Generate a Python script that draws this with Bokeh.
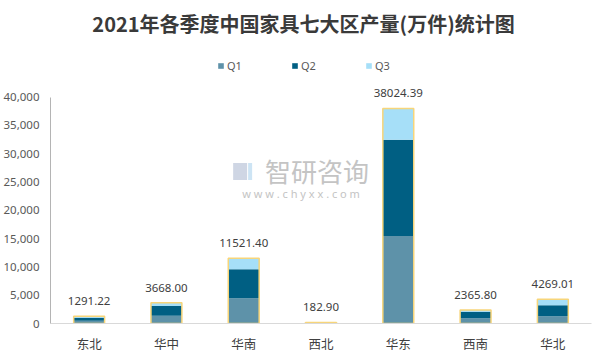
from bokeh.plotting import figure
from bokeh.models import (ColumnDataSource, FactorRange, Range1d, Legend, LegendItem,
                          LabelSet, Label, FixedTicker, NumeralTickFormatter)
from bokeh.core.properties import value
from bokeh.embed import file_html
from bokeh.resources import INLINE

# ---- data ----
regions = ["东北", "华中", "华南", "西北", "华东", "西南", "华北"]
q1 = [470, 1350, 4465, 80, 15450, 940, 1290]
q2 = [530, 1760, 5110, 60, 17035, 1115, 1940]
q3 = [291.22, 558.00, 1946.40, 42.90, 5539.39, 310.80, 1039.01]
totals = [1291.22, 3668.00, 11521.40, 182.90, 38024.39, 2365.80, 4269.01]
total_labels = ["1291.22", "3668.00", "11521.40", "182.90", "38024.39", "2365.80", "4269.01"]
y_ticks = [0, 5000, 10000, 15000, 20000, 25000, 30000, 35000, 40000]
series = ["Q1", "Q2", "Q3"]
colors = ["#5e92a9", "#005f83", "#a6dff8"]
title_text = "2021年各季度中国家具七大区产量(万件)统计图"

src = ColumnDataSource(dict(region=regions, Q1=q1, Q2=q2, Q3=q3,
                            total=totals, label=total_labels))

W, H = 597, 355
FRAME_L, FRAME_R, FRAME_B = 49, 591, 324
PX = 40000 / 227.0          # data units per pixel
Y_MAX = FRAME_B * PX
CAT = (FRAME_R - FRAME_L) / 7.0


def sx(px):
    return (px - FRAME_L) / CAT


def sy(py):
    return (FRAME_B - py) * PX


p = figure(width=W, height=H, x_range=FactorRange(*regions),
           y_range=Range1d(0, Y_MAX), output_backend="svg",
           toolbar_location=None, min_border_left=FRAME_L,
           min_border_right=W - FRAME_R, min_border_top=0,
           min_border_bottom=H - FRAME_B)
p.outline_line_color = None
p.xgrid.visible = False
p.ygrid.visible = False
p.background_fill_color = "white"
p.border_fill_color = "white"

# watermark logo blocks
p.quad(left=[sx(232)], right=[sx(246)], bottom=[sy(180)], top=[sy(163)],
       fill_color="#cfd6e4", line_color=None)
p.quad(left=[sx(247)], right=[sx(251)], bottom=[sy(180)], top=[sy(163)],
       fill_color="#cde4f4", line_color=None)

rs = p.vbar_stack(series, x="region", width=0.4, source=src, color=colors,
                  line_color=None)
p.vbar(x="region", top="total", width=0.4, source=src, fill_alpha=0,
       line_color="#f7d57a", line_width=1.5)

labels = LabelSet(x="region", y="total", text="label", source=src,
                  text_align="center", text_baseline="bottom", y_offset=11,
                  text_font_size=value("11.5px"), text_color="#404040",
                  text_font=value("Noto Sans"))
p.add_layout(labels)

# axes
for ax in (p.xaxis[0], p.yaxis[0]):
    ax.major_tick_line_color = None
    ax.minor_tick_line_color = None
    ax.major_tick_out = 0
    ax.major_tick_in = 0
    ax.minor_tick_out = 0
    ax.minor_tick_in = 0
    ax.axis_label_standoff = 0

p.yaxis.ticker = FixedTicker(ticks=y_ticks)
p.yaxis.formatter = NumeralTickFormatter(format="0,0")
p.yaxis.bounds = (0, 40000)
p.yaxis.axis_line_color = "#b4b4b4"
p.yaxis.major_label_text_font_size = "11.5px"
p.yaxis.major_label_text_color = "#595959"
p.yaxis.major_label_text_font = "Noto Sans"
p.yaxis.major_label_standoff = 11

p.xaxis.axis_line_color = "#d9d9d9"
p.xaxis.major_label_text_font_size = "12.5px"
p.xaxis.major_label_text_color = "#404040"
p.xaxis.major_label_text_font = "Noto Sans CJK SC"
p.xaxis.major_label_standoff = 10

# title
p.add_layout(Label(x=sx(302.5), y=sy(23), text=title_text,
                   text_align="center", text_baseline="middle",
                   text_font_size="20px", text_font_style="bold",
                   text_color="#3a3a3a", text_font="Noto Sans CJK SC"))

# watermark
p.add_layout(Label(x=sx(316), y=sy(171), text="智研咨询",
                   text_align="center", text_baseline="middle",
                   text_font_size="26px", text_color="#c4c4c4",
                   text_font="Noto Sans CJK SC"))
p.add_layout(Label(x=sx(300), y=sy(194),
                   text="w w w . c h y x x . c o m",
                   text_align="center", text_baseline="middle",
                   text_font_size="11px", text_color="#c4c4c4",
                   text_font="Noto Sans"))

# legend
legend = Legend(items=[LegendItem(label=s, renderers=[r]) for s, r in zip(series, rs)],
                location=(216 - FRAME_L, FRAME_B - 68 - 6), orientation="horizontal",
                border_line_color=None, background_fill_alpha=0,
                padding=0, margin=0, spacing=48, label_standoff=3,
                glyph_width=7, glyph_height=7, label_height=12, label_width=16,
                label_text_font_size="11px", label_text_color="#595959",
                label_text_font="Noto Sans")
p.add_layout(legend)

open("out.html", "w").write(file_html(p, INLINE))
